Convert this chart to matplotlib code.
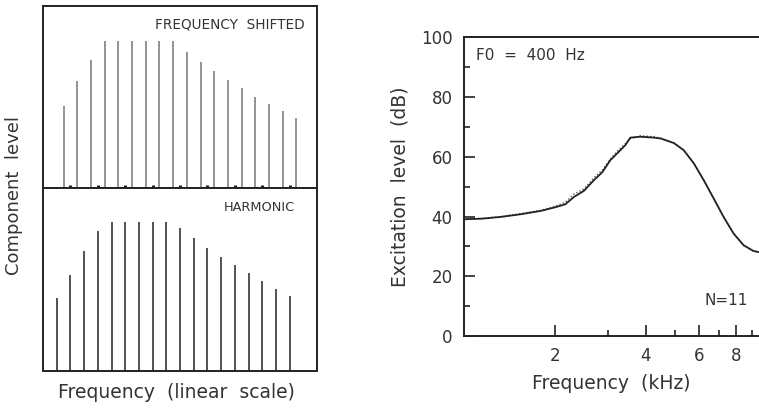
import matplotlib.pyplot as plt
from matplotlib.ticker import FixedLocator, NullFormatter
import numpy as np

# component spectra (level in % of panel height)
harm_num = np.arange(1, 19)
shift_num = harm_num + 0.5
shifted_level = [45.2, 58.9, 70.4, 80.6, 80.6, 80.6, 80.6, 80.6, 80.6,
                 75.0, 69.5, 64.4, 59.4, 54.8, 50.3, 46.3, 42.6, 38.6]
harmonic_level = [40.1, 52.6, 65.5, 76.3, 81.4, 81.4, 81.4, 81.4, 81.4,
                  78.1, 72.6, 67.2, 62.4, 57.7, 53.3, 49.1, 44.9, 40.9]
marker_num = [2, 4, 6, 8, 10, 12, 14, 16, 18]

# excitation patterns
freq_khz = [1.0, 1.15, 1.33, 1.55, 1.8, 1.99, 2.17, 2.32, 2.5, 2.7, 2.88,
            3.06, 3.22, 3.43, 3.56, 3.84, 4.26, 4.49, 4.96, 5.35, 5.78,
            6.23, 6.72, 7.25, 7.83, 8.45, 9.1, 9.5]
exc_harm = [39.1, 39.3, 39.9, 40.8, 41.9, 43.0, 44.1, 46.6, 48.6, 52.2, 54.9,
            58.9, 61.1, 63.9, 66.4, 66.7, 66.4, 66.1, 64.6, 62.2, 57.8,
            52.2, 46.1, 39.9, 34.3, 30.4, 28.5, 28.1]
exc_shift = [39.0, 39.4, 40.0, 41.0, 42.1, 43.3, 44.8, 47.6, 49.2, 53.0, 55.6,
             59.3, 61.8, 64.4, 66.0, 67.0, 66.7, 66.2, 64.7, 62.2, 57.8,
             52.2, 46.1, 39.9, 34.3, 30.4, 28.5, 28.1]

font = 'DejaVu Sans'
plt.rcParams['font.family'] = font
ink = '#333333'

fig = plt.figure(figsize=(7.59, 4.08), dpi=100)

ax_top = fig.add_axes([0.0567, 0.539, 0.361, 0.446])
ax_bot = fig.add_axes([0.0567, 0.0907, 0.361, 0.449])

ax_top.vlines(shift_num, 0, shifted_level, color='#777777', lw=1.1)
ax_top.vlines(marker_num, 0, 1.8, color='#222222', lw=2.2)
ax_bot.vlines(harm_num, 0, harmonic_level, color='#444444', lw=1.3)

for ax in (ax_top, ax_bot):
    ax.set_xlim(0, 20)
    ax.set_ylim(0, 100)
    ax.set_xticks([])
    ax.set_yticks([])
    for s in ax.spines.values():
        s.set_linewidth(1.4)
        s.set_color('#222222')

ax_top.text(0.955, 0.9, 'FREQUENCY  SHIFTED', transform=ax_top.transAxes,
            ha='right', va='center', fontsize=9.8, color=ink)
ax_bot.text(0.92, 0.89, 'HARMONIC', transform=ax_bot.transAxes,
            ha='right', va='center', fontsize=9.3, color=ink)
fig.text(0.019, 0.52, 'Component  level', rotation=90, ha='center',
         va='center', fontsize=13, color=ink)
fig.text(0.232, 0.037, 'Frequency  (linear  scale)', ha='center',
         va='center', fontsize=13.5, color=ink)

# right panel
ax = fig.add_axes([0.611, 0.176, 0.389, 0.733])
ax.plot(freq_khz, exc_shift, color='#555555', lw=1.0, ls=(0, (1, 1.5)))
ax.plot(freq_khz, exc_harm, color='#222222', lw=1.3)
ax.set_xscale('log')
ax.set_xlim(1.0, 9.5)
ax.set_ylim(0, 100)
ax.xaxis.set_major_locator(FixedLocator([2, 4, 6, 8]))
ax.xaxis.set_minor_locator(FixedLocator([3, 5, 7, 9]))
ax.xaxis.set_minor_formatter(NullFormatter())
ax.set_xticklabels(['2', '4', '6', '8'])
ax.set_yticks([0, 20, 40, 60, 80, 100])
ax.set_yticks([10, 30, 50, 70, 90], minor=True)
ax.tick_params(which='both', direction='in', labelsize=12, colors='#222222',
               width=1.2, labelcolor=ink)
ax.tick_params(which='major', length=8, pad=8)
ax.tick_params(which='minor', length=4)
ax.spines['right'].set_visible(False)
for s in ('left', 'top', 'bottom'):
    ax.spines[s].set_linewidth(1.4)
    ax.spines[s].set_color('#222222')
ax.set_xlabel('Frequency  (kHz)', fontsize=13.5, color=ink, labelpad=6)
ax.set_ylabel('Excitation  level  (dB)', fontsize=13.5, color=ink,
              labelpad=8)
ax.text(0.04, 0.94, 'F0  =  400  Hz', transform=ax.transAxes, fontsize=11,
        ha='left', va='center', color=ink)
ax.text(0.815, 0.12, 'N=11', transform=ax.transAxes, fontsize=11,
        ha='left', va='center', color=ink)

fig.savefig('out.png', dpi=100)
